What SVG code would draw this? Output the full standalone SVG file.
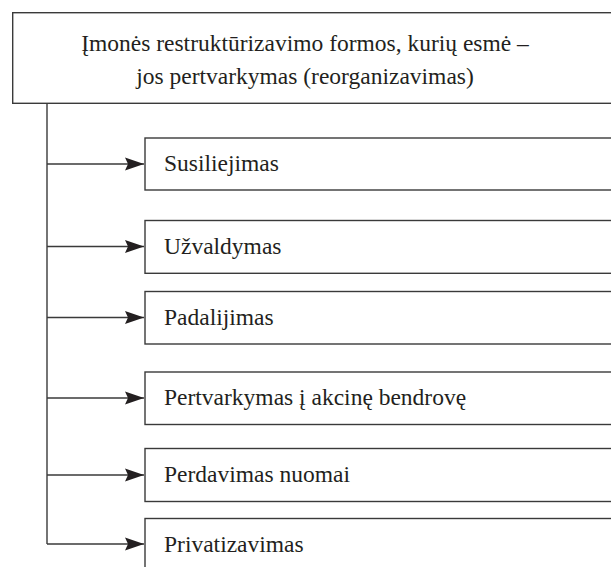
<svg xmlns="http://www.w3.org/2000/svg" width="611" height="567" viewBox="0 0 611 567">
<defs>
<style>
.box{fill:#fff;stroke:#3a3a3a;stroke-width:1.4}
.ln{fill:none;stroke:#3a3a3a;stroke-width:1.4}
</style>
<marker id="arr" markerWidth="19" markerHeight="14" refX="19" refY="7" orient="auto" markerUnits="userSpaceOnUse">
<path d="M0,0.5 L19,7 L0,13.5 L3,7 Z" fill="#231f20"/>
</marker>
</defs>
<rect width="611" height="567" fill="#fff"/>
<g font-family="Liberation Serif, Times New Roman, serif" font-size="23.5" fill="#231f20">
<g id="title">
<rect class="box" x="12.7" y="12.7" width="610" height="90.6"/>
<text text-anchor="middle" x="305" y="51">Įmonės restruktūrizavimo formos, kurių esmė –</text>
<text text-anchor="middle" x="305" y="84">jos pertvarkymas (reorganizavimas)</text>
</g>
<g id="connectors">
<path class="ln" d="M47,103.3 V544"/>
<path class="ln" d="M47,164 H144" marker-end="url(#arr)"/>
<path class="ln" d="M47,246.5 H144" marker-end="url(#arr)"/>
<path class="ln" d="M47,317.5 H144" marker-end="url(#arr)"/>
<path class="ln" d="M47,398 H144" marker-end="url(#arr)"/>
<path class="ln" d="M47,475 H144" marker-end="url(#arr)"/>
<path class="ln" d="M47,544 H144" marker-end="url(#arr)"/>
</g>
<g id="n1"><rect class="box" x="145" y="138" width="480" height="52"/><text x="164" y="171">Susiliejimas</text></g>
<g id="n2"><rect class="box" x="145" y="220.5" width="480" height="52.8"/><text x="164" y="254">Užvaldymas</text></g>
<g id="n3"><rect class="box" x="145" y="291.5" width="480" height="52.5"/><text x="164" y="325">Padalijimas</text></g>
<g id="n4"><rect class="box" x="145" y="372" width="480" height="52.5"/><text x="164" y="405">Pertvarkymas į akcinę bendrovę</text></g>
<g id="n5"><rect class="box" x="145" y="448.5" width="480" height="53"/><text x="164" y="482">Perdavimas nuomai</text></g>
<g id="n6"><rect class="box" x="145" y="518.5" width="480" height="60"/><text x="164" y="552">Privatizavimas</text></g>
</g>
</svg>
